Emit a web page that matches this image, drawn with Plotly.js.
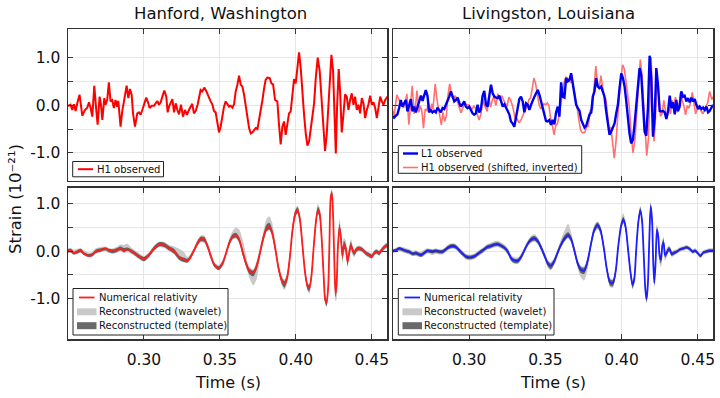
<!DOCTYPE html>
<html><head><meta charset="utf-8">
<script src="https://cdn.plot.ly/plotly-3.0.1.min.js"></script>
<style>html,body{margin:0;padding:0;background:#fff}#chart{width:720px;height:398px}</style>
</head><body><div id="chart"></div>
<script>
// ---------- Top-left: H1 observed ----------
const H1_T = [
0.2490,0.2506,0.2517,0.2528,0.2539,0.2550,0.2561,0.2576,0.2585,0.2594,
0.2611,0.2627,0.2638,0.2649,0.2660,0.2673,0.2686,0.2695,0.2708,0.2717,
0.2726,0.2739,0.2747,0.2758,0.2769,0.2780,0.2791,0.2802,0.2813,0.2824,
0.2831,0.2846,0.2857,0.2870,0.2886,0.2897,0.2908,0.2919,0.2928,0.2941,
0.2956,0.2967,0.2978,0.2989,0.3000,0.3015,0.3029,0.3037,0.3051,0.3066,
0.3077,0.3088,0.3099,0.3110,0.3121,0.3134,0.3147,0.3156,0.3165,0.3173,
0.3187,0.3198,0.3209,0.3220,0.3231,0.3244,0.3257,0.3270,0.3283,0.3296,
0.3310,0.3318,0.3329,0.3340,0.3354,0.3362,0.3373,0.3384,0.3397,0.3411,
0.3424,0.3439,0.3450,0.3461,0.3472,0.3483,0.3494,0.3505,0.3516,0.3527,
0.3538,0.3549,0.3560,0.3571,0.3582,0.3593,0.3604,0.3615,0.3626,0.3637,
0.3648,0.3659,0.3670,0.3681,0.3692,0.3703,0.3714,0.3725,0.3736,0.3747,
0.3758,0.3769,0.3780,0.3791,0.3801,0.3812,0.3828,0.3839,0.3850,0.3863,
0.3878,0.3889,0.3900,0.3911,0.3922,0.3933,0.3944,0.3955,0.3966,0.3977,
0.3988,0.3999,0.4010,0.4021,0.4032,0.4043,0.4054,0.4065,0.4076,0.4087,
0.4098,0.4109,0.4120,0.4131,0.4144,0.4157,0.4170,0.4181,0.4192,0.4203,
0.4214,0.4223,0.4234,0.4245,0.4254,0.4263,0.4271,0.4282,0.4291,0.4302,
0.4313,0.4324,0.4335,0.4346,0.4357,0.4368,0.4379,0.4390,0.4401,0.4412,
0.4423,0.4434,0.4445,0.4456,0.4467,0.4478,0.4489,0.4500,0.4511,0.4522,
0.4533,0.4544,0.4555,0.4566,0.4577,0.4588,0.4603];
const H1_V = [
0.00,-0.01,0.01,-0.10,0.02,-0.12,0.04,0.22,0.01,-0.22,
-0.10,-0.05,0.06,-0.06,-0.24,0.41,-0.10,-0.41,0.18,0.01,
-0.31,0.15,0.01,0.11,0.48,0.08,0.11,-0.06,0.11,-0.03,
0.09,-0.45,-0.13,0.08,0.41,0.15,0.34,0.22,-0.17,-0.45,
-0.17,-0.15,-0.20,-0.10,0.01,0.16,0.04,-0.06,-0.01,-0.01,
0.04,0.09,0.01,0.06,0.18,0.31,0.18,-0.15,-0.03,0.02,
0.13,-0.15,0.04,-0.10,-0.19,0.01,-0.24,-0.10,-0.20,-0.10,
-0.03,0.03,-0.17,-0.12,0.02,0.15,0.32,0.29,0.37,0.29,
0.18,0.08,0.02,-0.12,-0.15,-0.34,-0.57,-0.45,-0.24,-0.03,
0.08,0.02,-0.03,-0.01,-0.05,0.02,0.29,0.43,0.62,0.43,
0.39,0.22,-0.03,-0.27,-0.48,-0.59,-0.57,-0.52,-0.48,-0.50,
-0.31,-0.12,0.11,0.36,0.53,0.58,0.57,0.46,0.44,0.11,
0.08,-0.41,-0.82,-0.45,-0.34,-0.62,-0.38,-0.17,-0.13,0.22,
0.55,0.46,0.85,1.11,0.78,0.22,-0.20,-0.59,-0.85,-0.76,
-0.52,-0.20,0.04,0.57,1.00,0.71,0.01,-0.59,-0.96,-0.62,
0.01,0.71,1.06,0.71,0.01,-1.01,-0.06,0.76,0.29,-0.57,
-0.20,0.23,0.18,-0.10,0.11,0.25,0.01,0.18,-0.10,0.01,
-0.17,0.15,0.04,-0.27,-0.10,0.02,0.20,0.01,0.06,-0.06,
-0.27,0.02,0.18,0.08,0.01,0.11,0.18];

// ---------- Top-right: H1 observed (shifted, inverted) ----------
const H1_SHIFTED_T = [
0.2421,0.2437,0.2448,0.2459,0.2470,0.2481,0.2492,0.2507,0.2516,0.2525,
0.2542,0.2558,0.2569,0.2580,0.2591,0.2604,0.2617,0.2626,0.2639,0.2648,
0.2657,0.2670,0.2678,0.2689,0.2700,0.2711,0.2722,0.2733,0.2744,0.2755,
0.2762,0.2777,0.2788,0.2801,0.2817,0.2828,0.2839,0.2850,0.2859,0.2872,
0.2887,0.2898,0.2909,0.2920,0.2931,0.2946,0.2960,0.2968,0.2982,0.2997,
0.3008,0.3019,0.3030,0.3041,0.3052,0.3065,0.3078,0.3087,0.3096,0.3104,
0.3118,0.3129,0.3140,0.3151,0.3162,0.3175,0.3188,0.3201,0.3214,0.3227,
0.3241,0.3249,0.3260,0.3271,0.3285,0.3293,0.3304,0.3315,0.3328,0.3342,
0.3355,0.3370,0.3381,0.3392,0.3403,0.3414,0.3425,0.3436,0.3447,0.3458,
0.3469,0.3480,0.3491,0.3502,0.3513,0.3524,0.3535,0.3546,0.3557,0.3568,
0.3579,0.3590,0.3601,0.3612,0.3623,0.3634,0.3645,0.3656,0.3667,0.3678,
0.3689,0.3700,0.3711,0.3722,0.3732,0.3743,0.3759,0.3770,0.3781,0.3794,
0.3809,0.3820,0.3831,0.3842,0.3853,0.3864,0.3875,0.3886,0.3897,0.3908,
0.3919,0.3930,0.3941,0.3952,0.3963,0.3974,0.3985,0.3996,0.4007,0.4018,
0.4029,0.4040,0.4051,0.4062,0.4075,0.4088,0.4101,0.4112,0.4123,0.4134,
0.4145,0.4154,0.4165,0.4176,0.4185,0.4194,0.4202,0.4213,0.4222,0.4233,
0.4244,0.4255,0.4266,0.4277,0.4288,0.4299,0.4310,0.4321,0.4332,0.4343,
0.4354,0.4365,0.4376,0.4387,0.4398,0.4409,0.4420,0.4431,0.4442,0.4453,
0.4464,0.4475,0.4486,0.4497,0.4508,0.4519,0.4534,0.4550,0.4565,0.4578,
0.4592,0.4605];
const H1_SHIFTED_V = [
0.00,0.01,-0.01,0.10,-0.02,0.12,-0.04,-0.22,-0.01,0.22,
0.10,0.05,-0.06,0.06,0.24,-0.41,0.10,0.41,-0.18,-0.01,
0.31,-0.15,-0.01,-0.11,-0.48,-0.08,-0.11,0.06,-0.11,0.03,
-0.09,0.45,0.13,-0.08,-0.41,-0.15,-0.34,-0.22,0.17,0.45,
0.17,0.15,0.20,0.10,-0.01,-0.16,-0.04,0.06,0.01,0.01,
-0.04,-0.09,-0.01,-0.06,-0.18,-0.31,-0.18,0.15,0.03,-0.02,
-0.13,0.15,-0.04,0.10,0.19,-0.01,0.24,0.10,0.20,0.10,
0.03,-0.03,0.17,0.12,-0.02,-0.15,-0.32,-0.29,-0.37,-0.29,
-0.18,-0.08,-0.02,0.12,0.15,0.34,0.57,0.45,0.24,0.03,
-0.08,-0.02,0.03,0.01,0.05,-0.02,-0.29,-0.43,-0.62,-0.43,
-0.39,-0.22,0.03,0.27,0.48,0.59,0.57,0.52,0.48,0.50,
0.31,0.12,-0.11,-0.36,-0.53,-0.58,-0.57,-0.46,-0.44,-0.11,
-0.08,0.41,0.82,0.45,0.34,0.62,0.38,0.17,0.13,-0.22,
-0.55,-0.46,-0.85,-1.11,-0.78,-0.22,0.20,0.59,0.85,0.76,
0.52,0.20,-0.04,-0.57,-1.00,-0.71,-0.01,0.59,0.96,0.62,
-0.01,-0.71,-1.06,-0.71,-0.01,1.01,0.06,-0.76,-0.29,0.57,
0.20,-0.23,-0.18,0.10,-0.11,-0.25,-0.01,-0.18,0.10,-0.01,
0.17,-0.15,-0.04,0.27,0.10,-0.02,-0.20,-0.01,-0.06,0.06,
0.27,-0.02,-0.18,-0.08,-0.01,-0.11,-0.18,-0.05,0.05,0.29,
0.12,0.20];

// ---------- Top-right: L1 observed ----------
const L1_T = [
0.2496,0.2507,0.2518,0.2529,0.2540,0.2551,0.2562,0.2573,0.2584,0.2595,
0.2606,0.2617,0.2628,0.2639,0.2650,0.2661,0.2672,0.2683,0.2694,0.2705,
0.2715,0.2726,0.2737,0.2748,0.2759,0.2770,0.2781,0.2792,0.2803,0.2814,
0.2825,0.2836,0.2847,0.2858,0.2869,0.2880,0.2891,0.2902,0.2913,0.2924,
0.2934,0.2945,0.2956,0.2967,0.2978,0.2989,0.3000,0.3011,0.3022,0.3033,
0.3044,0.3055,0.3066,0.3077,0.3088,0.3099,0.3110,0.3121,0.3132,0.3143,
0.3154,0.3165,0.3176,0.3187,0.3198,0.3209,0.3220,0.3231,0.3242,0.3253,
0.3263,0.3274,0.3285,0.3296,0.3307,0.3318,0.3329,0.3340,0.3351,0.3362,
0.3373,0.3384,0.3395,0.3406,0.3417,0.3428,0.3439,0.3450,0.3461,0.3472,
0.3482,0.3493,0.3504,0.3515,0.3526,0.3537,0.3548,0.3559,0.3570,0.3581,
0.3592,0.3603,0.3614,0.3625,0.3636,0.3647,0.3658,0.3669,0.3680,0.3691,
0.3702,0.3713,0.3724,0.3735,0.3746,0.3757,0.3768,0.3779,0.3790,0.3801,
0.3811,0.3822,0.3833,0.3844,0.3855,0.3866,0.3877,0.3888,0.3899,0.3910,
0.3921,0.3932,0.3943,0.3954,0.3965,0.3976,0.3987,0.3998,0.4009,0.4020,
0.4030,0.4041,0.4052,0.4063,0.4074,0.4085,0.4096,0.4107,0.4118,0.4129,
0.4140,0.4151,0.4162,0.4173,0.4184,0.4195,0.4206,0.4217,0.4228,0.4239,
0.4250,0.4261,0.4272,0.4283,0.4294,0.4305,0.4316,0.4327,0.4338,0.4349,
0.4359,0.4370,0.4381,0.4392,0.4403,0.4414,0.4425,0.4436,0.4447,0.4458,
0.4469,0.4480,0.4491,0.4502,0.4513,0.4524,0.4535,0.4546,0.4557,0.4568,
0.4578,0.4589,0.4600];
const L1_V = [
-0.24,-0.26,-0.22,-0.19,-0.06,0.11,-0.03,0.04,0.11,-0.13,
0.01,0.13,-0.13,-0.03,-0.15,-0.03,0.11,0.20,0.09,0.20,
0.32,0.20,-0.15,-0.10,-0.15,-0.12,-0.15,-0.05,-0.10,-0.15,
-0.06,-0.08,0.01,0.09,0.18,0.29,0.18,0.08,0.11,0.16,
0.06,-0.03,0.02,0.08,-0.03,-0.06,-0.03,-0.10,-0.17,-0.20,
-0.17,0.01,-0.15,-0.08,0.20,0.30,0.01,-0.03,0.25,0.43,
0.25,0.18,0.16,0.15,0.20,0.06,-0.03,0.02,-0.06,-0.15,
-0.19,-0.34,-0.38,-0.45,-0.24,-0.03,0.13,0.18,0.08,-0.15,
0.04,0.01,-0.10,0.01,0.11,0.18,0.25,0.32,0.22,0.08,
0.01,-0.15,-0.33,-0.34,-0.31,-0.41,-0.31,-0.40,-0.15,-0.03,
-0.24,0.48,0.18,0.16,0.57,0.50,0.53,0.67,0.44,0.18,
0.01,-0.06,-0.12,-0.31,-0.41,-0.47,-0.43,-0.31,-0.19,-0.15,
0.18,0.29,0.57,0.39,0.36,0.39,0.29,0.18,-0.13,-0.41,
-0.62,-0.55,-0.48,-0.38,-0.17,0.01,0.37,0.67,0.57,0.39,
0.11,-0.31,-0.59,-0.80,-0.73,-0.41,-0.03,0.43,0.78,0.64,
0.01,-0.55,-0.64,-0.06,1.04,0.57,-0.66,-0.27,0.78,0.43,
-0.12,-0.13,-0.12,-0.15,-0.29,-0.13,0.20,-0.06,0.06,-0.19,
0.11,-0.12,-0.03,0.29,0.18,0.20,0.08,0.15,0.06,0.16,
0.08,0.13,0.01,-0.08,-0.03,-0.08,-0.05,-0.10,-0.03,-0.15,
-0.12,-0.06,0.01];

// ---------- Bottom-left: Hanford reconstructions ----------
const H_REC_T = [
0.2490,0.2517,0.2539,0.2561,0.2583,0.2605,0.2638,0.2660,0.2682,0.2715,
0.2747,0.2769,0.2796,0.2824,0.2846,0.2868,0.2890,0.2923,0.2967,0.3000,
0.3033,0.3066,0.3099,0.3132,0.3165,0.3198,0.3232,0.3265,0.3287,0.3309,
0.3331,0.3353,0.3375,0.3397,0.3419,0.3441,0.3463,0.3491,0.3518,0.3539,
0.3561,0.3583,0.3605,0.3627,0.3649,0.3671,0.3693,0.3719,0.3741,0.3763,
0.3785,0.3807,0.3825,0.3842,0.3864,0.3886,0.3908,0.3925,0.3943,0.3961,
0.3978,0.3996,0.4011,0.4026,0.4044,0.4061,0.4077,0.4088,0.4101,0.4116,
0.4132,0.4145,0.4156,0.4169,0.4182,0.4193,0.4202,0.4213,0.4221,0.4230,
0.4237,0.4246,0.4254,0.4261,0.4268,0.4276,0.4287,0.4296,0.4307,0.4316,
0.4329,0.4340,0.4351,0.4362,0.4373,0.4384,0.4399,0.4417,0.4439,0.4461,
0.4482,0.4500,0.4515,0.4531,0.4548,0.4566,0.4588,0.4605];
const H_NR = [
0.00,0.02,-0.04,-0.01,0.02,-0.05,-0.10,-0.08,-0.01,0.02,
0.06,0.02,0.00,0.02,0.06,0.01,0.04,-0.01,-0.11,-0.17,
-0.08,0.06,0.14,0.13,0.06,0.00,-0.13,-0.18,-0.20,-0.11,
0.03,0.17,0.26,0.25,0.10,-0.11,-0.29,-0.36,-0.25,-0.06,
0.17,0.31,0.34,0.24,-0.01,-0.25,-0.41,-0.45,-0.32,-0.04,
0.27,0.48,0.52,0.41,0.06,-0.36,-0.62,-0.69,-0.55,-0.11,
0.45,0.79,0.87,0.69,0.10,-0.46,-0.74,-0.78,-0.57,0.03,
0.62,0.87,0.80,0.31,-0.46,-1.02,-1.09,-0.74,0.17,1.15,
1.22,0.66,-0.32,-0.88,-0.70,0.03,0.50,0.30,-0.11,0.13,
0.06,-0.22,-0.04,0.13,0.03,-0.04,0.04,0.06,0.03,-0.04,
-0.08,-0.11,-0.04,-0.01,-0.04,0.03,0.10,0.13];
const H_TPL_LO = [
-0.04,-0.02,-0.07,-0.05,-0.02,-0.08,-0.12,-0.10,-0.04,-0.01,
0.02,-0.02,-0.04,-0.01,0.02,-0.02,0.01,-0.05,-0.15,-0.21,
-0.12,0.01,0.10,0.09,0.02,-0.05,-0.18,-0.23,-0.24,-0.15,
-0.01,0.13,0.21,0.20,0.05,-0.16,-0.33,-0.40,-0.30,-0.10,
0.12,0.26,0.29,0.19,-0.07,-0.31,-0.48,-0.53,-0.40,-0.10,
0.20,0.42,0.46,0.35,0.00,-0.42,-0.69,-0.77,-0.62,-0.18,
0.37,0.72,0.81,0.61,0.02,-0.53,-0.81,-0.85,-0.64,-0.05,
0.54,0.80,0.72,0.22,-0.55,-1.09,-1.16,-0.82,0.08,1.07,
1.13,0.56,-0.42,-0.97,-0.84,-0.07,0.40,0.20,-0.20,0.05,
-0.02,-0.30,-0.10,0.06,-0.03,-0.09,-0.01,0.02,-0.01,-0.08,
-0.12,-0.15,-0.08,-0.05,-0.08,-0.01,0.06,0.09];
const H_TPL_HI = [
0.03,0.05,-0.01,0.02,0.05,-0.02,-0.06,-0.04,0.03,0.06,
0.08,0.05,0.04,0.07,0.10,0.07,0.08,0.03,-0.07,-0.12,
-0.04,0.10,0.19,0.18,0.11,0.05,-0.09,-0.14,-0.16,-0.07,
0.07,0.22,0.31,0.30,0.15,-0.06,-0.25,-0.32,-0.21,-0.02,
0.22,0.36,0.39,0.30,0.05,-0.19,-0.36,-0.41,-0.26,0.02,
0.34,0.56,0.60,0.49,0.14,-0.30,-0.56,-0.63,-0.48,-0.04,
0.52,0.86,0.93,0.76,0.18,-0.39,-0.68,-0.72,-0.50,0.11,
0.70,0.94,0.88,0.40,-0.38,-0.95,-1.02,-0.66,0.26,1.22,
1.28,0.76,-0.22,-0.78,-0.60,0.13,0.58,0.40,-0.02,0.22,
0.14,-0.14,0.03,0.20,0.09,0.01,0.08,0.10,0.07,0.00,
-0.04,-0.07,0.00,0.03,0.00,0.07,0.14,0.17];
const H_WAV_LO = [
-0.06,-0.04,-0.08,-0.06,-0.04,-0.09,-0.13,-0.12,-0.06,-0.03,
0.00,-0.04,-0.06,-0.03,0.00,-0.04,-0.02,-0.07,-0.17,-0.22,
-0.13,0.00,0.08,0.07,0.00,-0.07,-0.19,-0.24,-0.25,-0.16,
-0.03,0.11,0.19,0.17,0.02,-0.18,-0.34,-0.41,-0.32,-0.12,
0.10,0.24,0.27,0.16,-0.09,-0.33,-0.55,-0.72,-0.60,-0.18,
0.18,0.40,0.44,0.33,-0.02,-0.45,-0.73,-0.82,-0.68,-0.22,
0.34,0.70,0.79,0.58,-0.01,-0.56,-0.84,-0.90,-0.68,-0.08,
0.50,0.77,0.68,0.18,-0.58,-1.12,-1.18,-0.85,0.04,1.03,
1.08,0.50,-0.48,-1.05,-1.02,-0.15,0.32,0.12,-0.26,0.00,
-0.08,-0.34,-0.16,0.00,-0.08,-0.12,-0.03,0.00,-0.03,-0.10,
-0.14,-0.17,-0.10,-0.07,-0.10,-0.03,0.04,0.07];
const H_WAV_HI = [
0.05,0.07,0.03,0.05,0.06,0.02,-0.03,-0.01,0.06,0.09,
0.10,0.07,0.06,0.10,0.14,0.13,0.16,0.06,-0.04,-0.10,
-0.02,0.12,0.20,0.20,0.13,0.10,0.05,-0.02,-0.12,-0.04,
0.09,0.24,0.33,0.33,0.19,-0.02,-0.22,-0.29,-0.18,0.01,
0.26,0.42,0.50,0.46,0.25,-0.05,-0.33,-0.38,-0.22,0.06,
0.40,0.68,0.74,0.62,0.22,-0.26,-0.53,-0.60,-0.44,0.00,
0.55,0.89,0.96,0.80,0.21,-0.36,-0.65,-0.70,-0.47,0.14,
0.74,1.00,0.93,0.44,-0.34,-0.92,-0.99,-0.62,0.30,1.27,
1.32,0.80,-0.18,-0.74,-0.56,0.20,0.68,0.48,0.05,0.28,
0.22,-0.06,0.12,0.25,0.14,0.04,0.10,0.12,0.09,0.02,
-0.02,-0.05,0.02,0.05,0.02,0.09,0.16,0.19];

// ---------- Bottom-right: Livingston reconstructions ----------
const L_REC_T = [
0.2490,0.2518,0.2540,0.2562,0.2584,0.2606,0.2628,0.2650,0.2682,0.2704,
0.2726,0.2759,0.2781,0.2803,0.2825,0.2847,0.2869,0.2891,0.2912,0.2934,
0.2956,0.2982,0.3011,0.3033,0.3055,0.3077,0.3099,0.3120,0.3142,0.3164,
0.3186,0.3208,0.3232,0.3254,0.3276,0.3298,0.3320,0.3342,0.3364,0.3386,
0.3408,0.3430,0.3452,0.3474,0.3496,0.3518,0.3535,0.3557,0.3579,0.3601,
0.3627,0.3649,0.3667,0.3689,0.3711,0.3732,0.3754,0.3776,0.3798,0.3820,
0.3842,0.3860,0.3882,0.3904,0.3925,0.3943,0.3961,0.3978,0.3996,0.4011,
0.4026,0.4044,0.4059,0.4072,0.4083,0.4096,0.4110,0.4123,0.4134,0.4145,
0.4156,0.4164,0.4173,0.4182,0.4191,0.4200,0.4208,0.4215,0.4224,0.4232,
0.4241,0.4250,0.4259,0.4268,0.4276,0.4285,0.4296,0.4307,0.4318,0.4329,
0.4342,0.4362,0.4384,0.4406,0.4428,0.4450,0.4467,0.4482,0.4500,0.4518,
0.4535,0.4553,0.4575,0.4605];
const L_NR = [
0.00,0.02,0.06,0.04,0.01,-0.01,-0.05,-0.04,-0.08,-0.04,
0.01,-0.01,0.01,-0.01,-0.01,0.04,0.09,0.11,0.09,0.02,
-0.05,-0.12,-0.13,-0.11,-0.06,-0.01,0.04,0.09,0.11,0.14,
0.15,0.12,0.07,-0.01,-0.15,-0.20,-0.20,-0.11,0.03,0.17,
0.25,0.27,0.20,0.06,-0.11,-0.27,-0.31,-0.22,-0.04,0.13,
0.27,0.34,0.27,0.03,-0.25,-0.39,-0.41,-0.22,0.13,0.44,
0.55,0.46,0.10,-0.39,-0.66,-0.67,-0.43,0.10,0.52,0.67,
0.52,-0.01,-0.46,-0.71,-0.60,0.03,0.62,0.87,0.66,-0.04,
-0.81,-1.02,-0.67,0.24,0.95,0.66,-0.25,-0.67,-0.18,0.45,
0.31,-0.11,-0.18,0.13,0.18,-0.08,-0.04,0.04,0.03,-0.06,
-0.04,-0.01,0.04,0.06,0.08,0.04,-0.01,0.01,-0.04,-0.10,
-0.03,-0.01,0.01,0.01];
const L_TPL_LO = [
-0.03,-0.01,0.02,0.00,-0.03,-0.05,-0.09,-0.08,-0.12,-0.08,
-0.03,-0.05,-0.03,-0.05,-0.05,0.00,0.05,0.07,0.05,-0.02,
-0.09,-0.16,-0.17,-0.15,-0.10,-0.05,0.00,0.05,0.07,0.10,
0.11,0.08,0.03,-0.06,-0.20,-0.25,-0.25,-0.16,-0.01,0.13,
0.20,0.22,0.15,0.01,-0.16,-0.33,-0.38,-0.28,-0.09,0.08,
0.22,0.29,0.21,-0.03,-0.31,-0.46,-0.48,-0.29,0.07,0.39,
0.49,0.40,0.03,-0.46,-0.73,-0.74,-0.50,0.03,0.46,0.61,
0.45,-0.08,-0.53,-0.78,-0.67,-0.04,0.55,0.81,0.59,-0.11,
-0.88,-1.08,-0.75,0.16,0.88,0.58,-0.33,-0.74,-0.26,0.37,
0.23,-0.19,-0.26,0.06,0.11,-0.14,-0.09,-0.01,-0.02,-0.10,
-0.08,-0.04,0.01,0.03,0.05,0.01,-0.04,-0.02,-0.07,-0.13,
-0.06,-0.04,-0.02,-0.02];
const L_TPL_HI = [
0.03,0.05,0.09,0.07,0.04,0.02,-0.02,0.00,-0.04,0.00,
0.04,0.03,0.04,0.03,0.03,0.08,0.13,0.15,0.13,0.06,
-0.01,-0.08,-0.09,-0.07,-0.02,0.03,0.08,0.13,0.15,0.18,
0.19,0.16,0.11,0.03,-0.11,-0.16,-0.16,-0.07,0.07,0.21,
0.30,0.32,0.25,0.11,-0.06,-0.22,-0.26,-0.17,0.01,0.18,
0.34,0.40,0.33,0.09,-0.19,-0.33,-0.35,-0.16,0.19,0.50,
0.61,0.52,0.16,-0.33,-0.60,-0.61,-0.37,0.16,0.58,0.73,
0.59,0.06,-0.39,-0.64,-0.53,0.10,0.69,0.93,0.73,0.03,
-0.74,-0.96,-0.59,0.32,1.02,0.74,-0.17,-0.60,-0.10,0.53,
0.39,-0.03,-0.10,0.20,0.25,-0.02,0.01,0.09,0.08,-0.02,
0.00,0.02,0.07,0.09,0.11,0.07,0.02,0.04,-0.01,-0.07,
0.00,0.02,0.04,0.04];
const L_WAV_LO = [
-0.05,-0.03,0.00,-0.02,-0.05,-0.07,-0.10,-0.10,-0.13,-0.10,
-0.05,-0.08,-0.06,-0.07,-0.07,-0.02,0.03,0.05,0.03,-0.04,
-0.11,-0.18,-0.19,-0.17,-0.12,-0.07,-0.02,0.03,0.05,0.08,
0.09,0.06,0.01,-0.08,-0.22,-0.27,-0.27,-0.18,-0.03,0.11,
0.18,0.20,0.13,-0.01,-0.18,-0.36,-0.40,-0.30,-0.11,0.06,
0.20,0.27,0.19,-0.05,-0.34,-0.55,-0.62,-0.40,0.04,0.36,
0.46,0.37,0.00,-0.49,-0.76,-0.77,-0.53,0.00,0.43,0.58,
0.42,-0.11,-0.56,-0.81,-0.70,-0.07,0.52,0.78,0.56,-0.14,
-0.91,-1.10,-0.78,0.12,0.85,0.55,-0.36,-0.78,-0.30,0.30,
0.18,-0.26,-0.34,0.00,0.05,-0.20,-0.13,-0.04,-0.04,-0.12,
-0.10,-0.06,-0.01,0.01,0.03,-0.01,-0.06,-0.04,-0.09,-0.15,
-0.08,-0.06,-0.04,-0.04];
const L_WAV_HI = [
0.04,0.07,0.10,0.09,0.07,0.05,0.01,0.02,-0.02,0.03,
0.06,0.04,0.06,0.03,0.04,0.10,0.15,0.17,0.15,0.08,
0.01,-0.06,-0.07,-0.05,0.00,0.05,0.10,0.15,0.18,0.21,
0.22,0.19,0.14,0.06,-0.08,-0.13,-0.13,-0.04,0.10,0.24,
0.33,0.36,0.28,0.14,-0.03,-0.19,-0.23,-0.14,0.04,0.24,
0.45,0.58,0.42,0.13,-0.16,-0.30,-0.32,-0.13,0.22,0.55,
0.63,0.55,0.19,-0.30,-0.57,-0.58,-0.34,0.20,0.65,0.80,
0.64,0.09,-0.36,-0.61,-0.50,0.13,0.72,0.96,0.76,0.06,
-0.71,-0.93,-0.56,0.36,1.05,0.78,-0.14,-0.56,-0.05,0.56,
0.44,0.04,-0.04,0.26,0.30,0.03,0.05,0.12,0.10,0.00,
0.02,0.04,0.09,0.11,0.13,0.09,0.04,0.06,0.01,-0.05,
0.02,0.04,0.06,0.06];

// ---------- Axis ticks and labels ----------
const X_TICKS = [0.30, 0.35, 0.40, 0.45];
const X_TICK_LABELS = ['0.30', '0.35', '0.40', '0.45'];
const Y_TICKS = [-1.0, 0.0, 1.0];
const Y_TICK_LABELS = ['-1.0', '0.0', '1.0'];
const Y_MINOR_TICKS = [-0.5, 0.5];
const PANEL_TITLES = ['Hanford, Washington', 'Livingston, Louisiana'];
const X_TITLE = 'Time (s)';
const Y_TITLE = 'Strain (10\u207B\u00B2\u00B9)';
const LEGEND_TOP_LEFT = ['H1 observed'];
const LEGEND_TOP_RIGHT = ['L1 observed', 'H1 observed (shifted, inverted)'];
const LEGEND_BOTTOM = ['Numerical relativity', 'Reconstructed (wavelet)', 'Reconstructed (template)'];

// ---------- Styles ----------
const FONT = 'DejaVu Sans';
const RED = '#ff0000', PINK = '#ff7070', BLUE = '#0000f0';
const NR_RED = '#ff1e1e', NR_BLUE = '#1e1eff';
const LIGHT_GRAY = '#c9c9c9';
const DARK_GRAY = '#5e6363';
const LEGEND_DARK = '#6a6a6a';

function band(t, lo, hi, xa, ya, name, color) {
  return [
    {x: t, y: hi, xaxis: xa, yaxis: ya, mode: 'lines', type: 'scatter',
     line: {width: 0, shape: 'spline', smoothing: 0.8, color: color},
     showlegend: false, hoverinfo: 'skip'},
    {x: t, y: lo, xaxis: xa, yaxis: ya, mode: 'lines', type: 'scatter',
     fill: 'tonexty', fillcolor: color,
     line: {width: 0, shape: 'spline', smoothing: 0.8, color: color},
     name: name, showlegend: false, hoverinfo: 'skip'}
  ];
}

const traces = [
  {x: H1_T, y: H1_V, xaxis: 'x', yaxis: 'y', mode: 'lines', type: 'scatter',
   line: {color: RED, width: 2}, name: LEGEND_TOP_LEFT[0], showlegend: false, hoverinfo: 'skip'},

  {x: H1_SHIFTED_T, y: H1_SHIFTED_V, xaxis: 'x2', yaxis: 'y2', mode: 'lines', type: 'scatter',
   line: {color: PINK, width: 1.6}, name: LEGEND_TOP_RIGHT[1], showlegend: false, hoverinfo: 'skip'},
  {x: L1_T, y: L1_V, xaxis: 'x2', yaxis: 'y2', mode: 'lines', type: 'scatter',
   line: {color: BLUE, width: 2.4}, name: LEGEND_TOP_RIGHT[0], showlegend: false, hoverinfo: 'skip'},

  ...band(H_REC_T, H_WAV_LO, H_WAV_HI, 'x3', 'y3', LEGEND_BOTTOM[1], LIGHT_GRAY),
  ...band(H_REC_T, H_TPL_LO, H_TPL_HI, 'x3', 'y3', LEGEND_BOTTOM[2], DARK_GRAY),
  {x: H_REC_T, y: H_NR, xaxis: 'x3', yaxis: 'y3', mode: 'lines', type: 'scatter',
   line: {color: NR_RED, width: 1.8, shape: 'spline', smoothing: 0.8},
   name: LEGEND_BOTTOM[0], showlegend: false, hoverinfo: 'skip'},

  ...band(L_REC_T, L_WAV_LO, L_WAV_HI, 'x4', 'y4', LEGEND_BOTTOM[1], LIGHT_GRAY),
  ...band(L_REC_T, L_TPL_LO, L_TPL_HI, 'x4', 'y4', LEGEND_BOTTOM[2], DARK_GRAY),
  {x: L_REC_T, y: L_NR, xaxis: 'x4', yaxis: 'y4', mode: 'lines', type: 'scatter',
   line: {color: NR_BLUE, width: 1.8, shape: 'spline', smoothing: 0.8},
   name: LEGEND_BOTTOM[0], showlegend: false, hoverinfo: 'skip'}
];

const TICK_FONT = {family: FONT, size: 15.5, color: '#111'};
const GRID = '#e6e6e6';
function xAxis(domain, anchor, labels) {
  return {domain: domain, anchor: anchor, range: [0.25, 0.46],
    tickmode: 'array', tickvals: X_TICKS, ticktext: X_TICK_LABELS, showticklabels: labels,
    ticks: 'inside', ticklen: 5, tickwidth: 1, tickcolor: '#333', ticklabelstandoff: 6,
    showline: true, linecolor: '#333', linewidth: 1.5, mirror: 'ticks',
    showgrid: true, gridcolor: GRID, gridwidth: 1, zeroline: false,
    tickfont: TICK_FONT, fixedrange: true};
}
function yAxis(domain, anchor, range, labels) {
  return {domain: domain, anchor: anchor, range: range,
    tickmode: 'array', tickvals: Y_TICKS, ticktext: Y_TICK_LABELS, showticklabels: labels,
    ticks: 'inside', ticklen: 5, tickwidth: 1, tickcolor: '#333', ticklabelstandoff: 3,
    minor: {tickmode: 'array', tickvals: Y_MINOR_TICKS, ticks: 'inside', ticklen: 5,
            tickwidth: 1, tickcolor: '#333', showgrid: true, gridcolor: GRID, gridwidth: 1},
    showline: true, linecolor: '#333', linewidth: 1.5, mirror: 'ticks',
    showgrid: true, gridcolor: GRID, gridwidth: 1, zeroline: false,
    tickfont: TICK_FONT, fixedrange: true};
}

const LEFT = [0, 0.4946], RIGHT = [0.5039, 1];
const TOP = [0.5097, 1], BOTTOM = [0, 0.4871];
const TOP_RANGE = [-1.59, 1.60], BOTTOM_RANGE = [-1.856, 1.336];

// ---------- Legend boxes (chart furniture, positioned in page pixels) ----------
const PLOT_L = 68, PLOT_W = 645, PLOT_B = 339, PLOT_H = 310;
const px = v => (v - PLOT_L) / PLOT_W;
const py = v => (PLOT_B - v) / PLOT_H;

const legendSpecs = [
  {box: [72.7, 163.5, 161.5, 176.8], line: [78, 93], fill: [78, 93], textX: 96,
   items: [{label: LEGEND_TOP_LEFT[0], kind: 'line', color: RED, width: 2, y: 169.2}]},
  {box: [398.3, 581.7, 145.7, 173.3], line: [403, 418], fill: [403, 418], textX: 420,
   items: [{label: LEGEND_TOP_RIGHT[0], kind: 'line', color: BLUE, width: 2.4, y: 153.5},
           {label: LEGEND_TOP_RIGHT[1], kind: 'line', color: PINK, width: 1.6, y: 167.5}]},
  {box: [73, 228, 288.5, 335], line: [79, 94.5], fill: [77, 96.5], textX: 97.5,
   items: [{label: LEGEND_BOTTOM[0], kind: 'line', color: NR_RED, width: 1.8, y: 297.5},
           {label: LEGEND_BOTTOM[1], kind: 'fill', color: LIGHT_GRAY, y: 311.8},
           {label: LEGEND_BOTTOM[2], kind: 'fill', color: LEGEND_DARK, y: 325.7}]},
  {box: [398.3, 554, 288.5, 335], line: [404.5, 420], fill: [402.5, 422], textX: 423,
   items: [{label: LEGEND_BOTTOM[0], kind: 'line', color: NR_BLUE, width: 1.8, y: 297.5},
           {label: LEGEND_BOTTOM[1], kind: 'fill', color: LIGHT_GRAY, y: 311.8},
           {label: LEGEND_BOTTOM[2], kind: 'fill', color: LEGEND_DARK, y: 325.7}]}
];

const shapes = [];
const legendAnnotations = [];
legendSpecs.forEach(spec => {
  shapes.push({type: 'rect', xref: 'paper', yref: 'paper', layer: 'above',
    x0: px(spec.box[0]), x1: px(spec.box[1]), y0: py(spec.box[3]), y1: py(spec.box[2]),
    line: {color: '#222', width: 1}, fillcolor: '#ffffff'});
  spec.items.forEach(it => {
    if (it.kind === 'line') {
      shapes.push({type: 'line', xref: 'paper', yref: 'paper', layer: 'above',
        x0: px(spec.line[0]), x1: px(spec.line[1]), y0: py(it.y), y1: py(it.y),
        line: {color: it.color, width: it.width}});
    } else {
      shapes.push({type: 'rect', xref: 'paper', yref: 'paper', layer: 'above',
        x0: px(spec.fill[0]), x1: px(spec.fill[1]), y0: py(it.y + 3.5), y1: py(it.y - 3.5),
        line: {width: 0}, fillcolor: it.color});
    }
    legendAnnotations.push({text: it.label, x: px(spec.textX), y: py(it.y), xref: 'paper', yref: 'paper',
      showarrow: false, xanchor: 'left', yanchor: 'middle', borderpad: 0,
      font: {family: FONT, size: 10, color: '#111'}});
  });
});

const annoFont = {family: FONT, color: '#111'};
const layout = {
  width: 720, height: 398,
  margin: {l: 68, r: 7, t: 29, b: 59, pad: 0},
  paper_bgcolor: '#ffffff', plot_bgcolor: '#ffffff',
  font: {family: FONT, color: '#111'},
  showlegend: false,
  xaxis: xAxis(LEFT, 'y', false),
  yaxis: yAxis(TOP, 'x', TOP_RANGE, true),
  xaxis2: xAxis(RIGHT, 'y2', false),
  yaxis2: yAxis(TOP, 'x2', TOP_RANGE, false),
  xaxis3: xAxis(LEFT, 'y3', true),
  yaxis3: yAxis(BOTTOM, 'x3', BOTTOM_RANGE, true),
  xaxis4: xAxis(RIGHT, 'y4', true),
  yaxis4: yAxis(BOTTOM, 'x4', BOTTOM_RANGE, false),
  shapes: shapes,
  annotations: [
    {text: PANEL_TITLES[0], x: 0.2367, y: 1.049, xref: 'paper', yref: 'paper', showarrow: false,
     xanchor: 'center', yanchor: 'middle', font: Object.assign({size: 16.5}, annoFont)},
    {text: PANEL_TITLES[1], x: 0.7457, y: 1.049, xref: 'paper', yref: 'paper', showarrow: false,
     xanchor: 'center', yanchor: 'middle', font: Object.assign({size: 16.5}, annoFont)},
    {text: X_TITLE, x: 0.2473, y: -0.1419, xref: 'paper', yref: 'paper', showarrow: false,
     xanchor: 'center', yanchor: 'middle', font: Object.assign({size: 16}, annoFont)},
    {text: X_TITLE, x: 0.7519, y: -0.1419, xref: 'paper', yref: 'paper', showarrow: false,
     xanchor: 'center', yanchor: 'middle', font: Object.assign({size: 16}, annoFont)},
    {text: Y_TITLE, x: -0.0822, y: 0.4516, xref: 'paper', yref: 'paper', showarrow: false,
     textangle: -90, xanchor: 'center', yanchor: 'middle', font: Object.assign({size: 16.5}, annoFont)},
    ...legendAnnotations
  ]
};

Plotly.newPlot('chart', traces, layout, {displayModeBar: false, staticPlot: true});
</script>
</body></html>
